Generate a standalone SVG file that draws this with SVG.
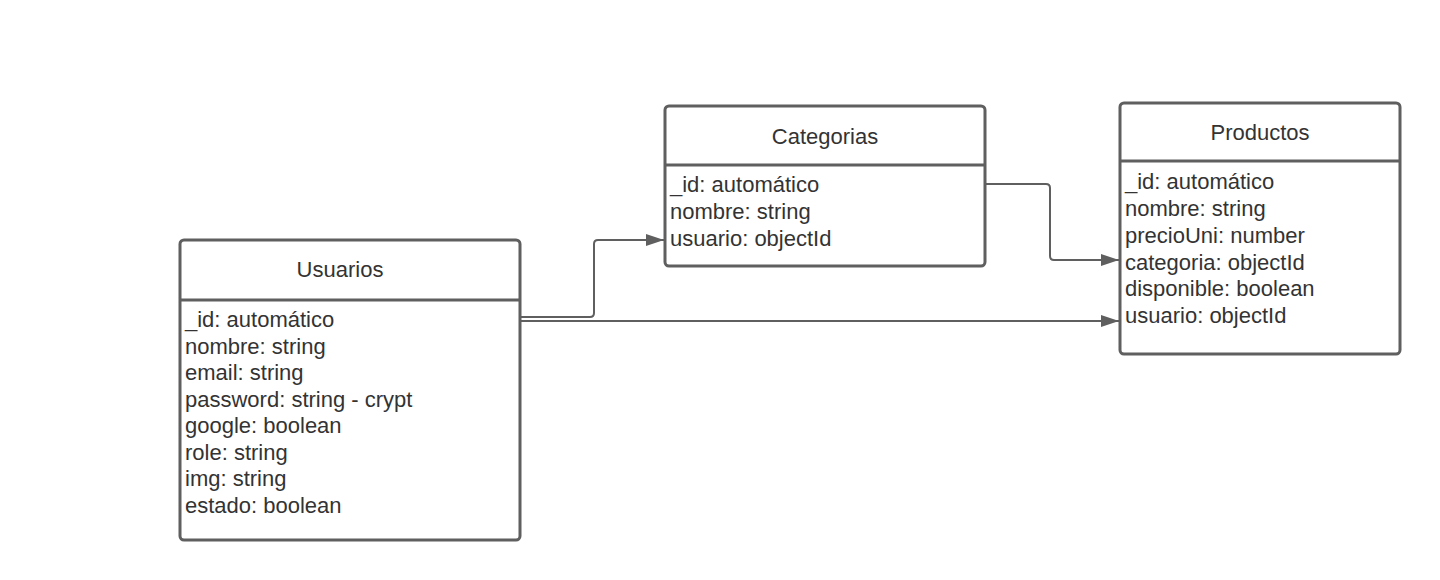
<svg xmlns="http://www.w3.org/2000/svg" width="1440" height="580" viewBox="0 0 1440 580">
<style>
.box{fill:#ffffff;stroke:#5f5f5f;stroke-width:3}
.div{stroke:#5f5f5f;stroke-width:3}
.t{font-family:"Liberation Sans",Arial,sans-serif;font-size:22px;fill:#333333}
.c{text-anchor:middle}
.con{fill:none;stroke:#5f5f5f;stroke-width:2}
</style>
<defs>
<marker id="arr" viewBox="0 0 18 12" refX="18" refY="6" markerWidth="18" markerHeight="12" markerUnits="userSpaceOnUse" orient="auto">
<path d="M0,0 L18,6 L0,12 Z" fill="#5f5f5f"/>
</marker>
</defs>
<rect width="1440" height="580" fill="#ffffff"/>
<g id="connectors">
<path class="con" d="M521,317 H590 Q594,317 594,313 V244 Q594,240 598,240 H664" marker-end="url(#arr)"/>
<path class="con" d="M521,321 H1119" marker-end="url(#arr)"/>
<path class="con" d="M986,184 H1046 Q1050,184 1050,188 V256 Q1050,260 1054,260 H1119" marker-end="url(#arr)"/>
</g>
<g id="usuarios">
<rect class="box" x="180" y="240" width="340" height="300" rx="4"/>
<line class="div" x1="180" y1="300" x2="520" y2="300"/>
<text class="t c" x="340" y="277">Usuarios</text>
<text class="t" x="185" y="327">_id: automático</text>
<text class="t" x="185" y="353.5">nombre: string</text>
<text class="t" x="185" y="380">email: string</text>
<text class="t" x="185" y="406.5">password: string - crypt</text>
<text class="t" x="185" y="433">google: boolean</text>
<text class="t" x="185" y="459.5">role: string</text>
<text class="t" x="185" y="486">img: string</text>
<text class="t" x="185" y="512.5">estado: boolean</text>
</g>
<g id="categorias">
<rect class="box" x="665" y="106" width="320" height="160" rx="4"/>
<line class="div" x1="665" y1="165" x2="985" y2="165"/>
<text class="t c" x="825" y="144">Categorias</text>
<text class="t" x="670" y="192">_id: automático</text>
<text class="t" x="670" y="219">nombre: string</text>
<text class="t" x="670" y="246">usuario: objectId</text>
</g>
<g id="productos">
<rect class="box" x="1120" y="103" width="280" height="251" rx="4"/>
<line class="div" x1="1120" y1="161" x2="1400" y2="161"/>
<text class="t c" x="1260" y="140">Productos</text>
<text class="t" x="1125" y="189">_id: automático</text>
<text class="t" x="1125" y="216">nombre: string</text>
<text class="t" x="1125" y="243">precioUni: number</text>
<text class="t" x="1125" y="270">categoria: objectId</text>
<text class="t" x="1125" y="296">disponible: boolean</text>
<text class="t" x="1125" y="323">usuario: objectId</text>
</g>
</svg>
